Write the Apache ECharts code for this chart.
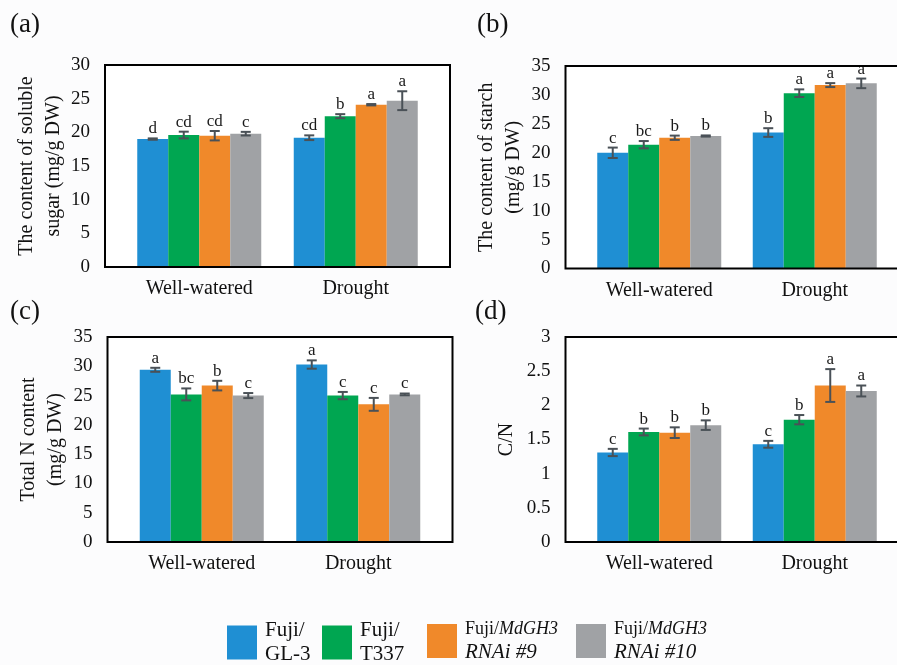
<!DOCTYPE html>
<html>
<head>
<meta charset="utf-8">
<script src="https://cdn.jsdelivr.net/npm/echarts@6/dist/echarts.min.js"></script>
<style>
html,body{margin:0;padding:0;background:#fcfcfd;}
#main{width:897px;height:665px;}
</style>
</head>
<body>
<div id="main"></div>
<script>
// ---------- data ----------
const categories = ['Well-watered', 'Drought'];
const seriesNames = ['Fuji/GL-3', 'Fuji/T337', 'Fuji/MdGH3 RNAi #9', 'Fuji/MdGH3 RNAi #10'];

// values indexed [series][category]
const sugarMean = [[19.0, 19.2], [19.6, 22.4], [19.5, 24.1], [19.8, 24.7]];
const sugarErr = [[0.1, 0.35], [0.5, 0.3], [0.7, 0.1], [0.27, 1.4]];
const sugarLetters = [['d', 'cd'], ['cd', 'b'], ['cd', 'a'], ['c', 'a']];

const starchMean = [[20.0, 23.5], [21.4, 30.3], [22.6, 31.7], [22.9, 32.0]];
const starchErr = [[0.9, 0.75], [0.63, 0.66], [0.37, 0.34], [0.1, 0.83]];
const starchLetters = [['c', 'b'], ['bc', 'a'], ['b', 'a'], ['b', 'a']];

const nMean = [[29.4, 30.3], [25.2, 25.0], [26.7, 23.5], [25.0, 25.2]];
const nErr = [[0.34, 0.71], [1.02, 0.62], [0.82, 1.1], [0.43, 0.15]];
const nLetters = [['a', 'a'], ['bc', 'c'], ['b', 'c'], ['c', 'c']];

const cnMean = [[1.31, 1.43], [1.61, 1.79], [1.60, 2.29], [1.71, 2.21]];
const cnErr = [[0.053, 0.05], [0.05, 0.068], [0.078, 0.24], [0.07, 0.08]];
const cnLetters = [['c', 'c'], ['b', 'b'], ['b', 'a'], ['b', 'a']];

// ---------- styles / layout ----------
const COLORS = ['#1f8fd3', '#00a651', '#f0892a', '#a0a2a5'];
const ERR_COLOR = '#4a5157';
const BAR_W = 31;
const SERIF = '"Liberation Serif", "Times New Roman", serif';

const panels = [
  {mean: sugarMean, err: sugarErr, letters: sugarLetters, max: 30, interval: 5,
   yName: 'The content of soluble\nsugar (mg/g DW)', nameGap: 24,
   box: [105, 65, 450, 267], grid: {left: 121, top: 65, width: 313, height: 202},
   tag: '(a)', tagPos: [10, 11]},
  {mean: starchMean, err: starchErr, letters: starchLetters, max: 35, interval: 5,
   yName: 'The content of starch\n(mg/g DW)', nameGap: 24,
   box: [565.5, 66, 908, 268.5], grid: {left: 581.5, top: 66, width: 311, height: 202.5},
   tag: '(b)', tagPos: [477, 11]},
  {mean: nMean, err: nErr, letters: nLetters, max: 35, interval: 5,
   yName: 'Total N content\n(mg/g DW)', nameGap: 29,
   box: [107.5, 337, 452.5, 542], grid: {left: 123.5, top: 337, width: 313, height: 205},
   tag: '(c)', tagPos: [10, 298]},
  {mean: cnMean, err: cnErr, letters: cnLetters, max: 3, interval: 0.5,
   yName: 'C/N', nameGap: 45,
   box: [565.5, 337, 908, 542], grid: {left: 581.5, top: 337, width: 311, height: 205},
   tag: '(d)', tagPos: [475, 298]}
];

const grids = [], xAxes = [], yAxes = [], series = [], graphics = [];

panels.forEach(function (p, pi) {
  grids.push(Object.assign({containLabel: false}, p.grid));
  xAxes.push({
    type: 'category', gridIndex: pi, data: categories,
    axisLine: {show: false}, axisTick: {show: false},
    axisLabel: {color: '#111', fontFamily: SERIF, fontSize: 20, margin: 12},
    splitLine: {show: false}
  });
  yAxes.push({
    type: 'value', gridIndex: pi, min: 0, max: p.max, interval: p.interval,
    offset: p.grid.left - p.box[0],
    axisLine: {show: false}, axisTick: {show: false}, splitLine: {show: false},
    axisLabel: {color: '#111', fontFamily: SERIF, fontSize: 19, margin: 15},
    name: p.yName, nameLocation: 'middle', nameGap: p.nameGap, nameRotate: 90,
    nameTextStyle: {color: '#111', fontFamily: SERIF, fontSize: 20, lineHeight: 27}
  });
  // bars
  seriesNames.forEach(function (nm, si) {
    series.push({
      type: 'bar', name: nm, xAxisIndex: pi, yAxisIndex: pi,
      barWidth: BAR_W, barGap: '0%',
      itemStyle: {color: COLORS[si]},
      data: p.mean[si]
    });
  });
  // error bars + significance letters
  seriesNames.forEach(function (nm, si) {
    series.push({
      type: 'custom', name: nm, xAxisIndex: pi, yAxisIndex: pi, z: 5,
      itemStyle: {color: COLORS[si]},
      encode: {x: 0, y: 1},
      data: categories.map(function (c, k) { return [k, p.mean[si][k], p.err[si][k]]; }),
      renderItem: function (params, api) {
        const k = api.value(0), m = api.value(1), e = api.value(2);
        const x = api.coord([k, m])[0] + (si - 1.5) * BAR_W;
        const top = api.coord([k, m + e])[1];
        const bot = api.coord([k, m - e])[1];
        const st = {stroke: ERR_COLOR, lineWidth: 2};
        return {
          type: 'group',
          children: [
            {type: 'line', shape: {x1: x, y1: top, x2: x, y2: bot}, style: st},
            {type: 'line', shape: {x1: x - 5, y1: top, x2: x + 5, y2: top}, style: st},
            {type: 'line', shape: {x1: x - 5, y1: bot, x2: x + 5, y2: bot}, style: st},
            {type: 'text', x: x, y: top - 1,
             style: {text: p.letters[si][params.dataIndex], textAlign: 'center',
                     textVerticalAlign: 'bottom', font: '17px ' + SERIF, fill: '#1a1a1a'}}
          ]
        };
      }
    });
  });
  // plot frame
  const b = p.box;
  graphics.push({type: 'rect', z: -10, shape: {x: b[0], y: b[1], width: b[2] - b[0], height: b[3] - b[1]},
                 style: {fill: '#ffffff', stroke: null}});
  graphics.push({type: 'rect', z: 100, shape: {x: b[0], y: b[1], width: b[2] - b[0], height: b[3] - b[1]},
                 style: {fill: 'transparent', stroke: '#000', lineWidth: 2}});
  graphics.push({type: 'text', left: p.tagPos[0], top: p.tagPos[1],
                 style: {text: p.tag, font: '27px ' + SERIF, fill: '#111'}});
});

const legendText = {
  'Fuji/GL-3': '{n|Fuji/}\n{n|GL-3}',
  'Fuji/T337': '{n|Fuji/}\n{n|T337}',
  'Fuji/MdGH3 RNAi #9': '{s|Fuji/}{si|MdGH3}\n{bi|RNAi #9}',
  'Fuji/MdGH3 RNAi #10': '{s|Fuji/}{si|MdGH3}\n{bi|RNAi #10}'
};
const legendLeft = [222, 317, 422, 571];

const legends = seriesNames.map(function (nm, i) {
  return {
    data: [{name: nm, icon: 'rect'}],
    left: legendLeft[i], top: 615, itemWidth: 30, itemHeight: 34,
    selectedMode: false,
    formatter: function (name) { return legendText[name]; },
    textStyle: {
      color: '#111', fontFamily: SERIF, padding: [0, 0, 0, 3],
      rich: {
        n: {fontSize: 21, lineHeight: 24, fontFamily: SERIF, color: '#111'},
        s: {fontSize: 18, lineHeight: 22, fontFamily: SERIF, color: '#111'},
        si: {fontSize: 18, lineHeight: 22, fontFamily: SERIF, fontStyle: 'italic', color: '#111'},
        bi: {fontSize: 21, lineHeight: 24, fontFamily: SERIF, fontStyle: 'italic', color: '#111'}
      }
    }
  };
});

const chart = echarts.init(document.getElementById('main'), null, {renderer: 'canvas'});
chart.setOption({
  animation: false,
  backgroundColor: '#fcfcfd',
  grid: grids, xAxis: xAxes, yAxis: yAxes, series: series,
  graphic: graphics,
  legend: legends
});
</script>
</body>
</html>
